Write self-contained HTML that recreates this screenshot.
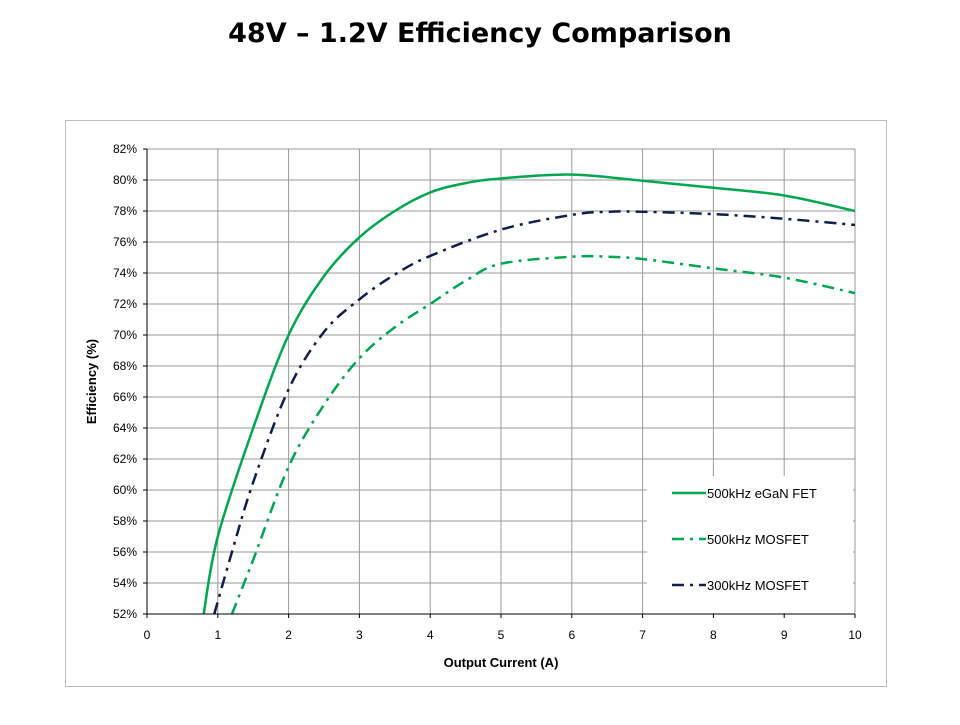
<!DOCTYPE html>
<html><head><meta charset="utf-8"><style>
body{margin:0;background:#fff;width:960px;height:720px;overflow:hidden;font-family:"Liberation Sans",sans-serif}
</style></head><body>
<svg width="960" height="720">
<text x="480" y="42" text-anchor="middle" font-family="DejaVu Sans, sans-serif" font-weight="bold" font-size="27">48V – 1.2V Efficiency Comparison</text>
<rect x="65.5" y="120.5" width="821" height="566" fill="#fff" stroke="#bbb"/>
<g id="grid"></g>
<g id="series"></g>
<g id="axes"></g>
<g id="legend"></g>
</svg>
<script>
const xTicks=[0,1,2,3,4,5,6,7,8,9,10];
const yTicks=[52,54,56,58,60,62,64,66,68,70,72,74,76,78,80,82];
const seriesNames=["500kHz eGaN FET","500kHz MOSFET","300kHz MOSFET"];
const eganX=[0.8,1,1.5,2,2.5,3,3.5,4,4.5,5,6,7,8,9,10];
const eganY=[52,57,64,70,73.8,76.3,78,79.2,79.8,80.1,80.35,79.95,79.5,79,78];
const mos500X=[1.2,1.5,2,2.5,3,3.5,4,4.5,5,6,6.5,7,8,9,10];
const mos500Y=[52,55.5,61.5,65.5,68.5,70.5,72,73.5,74.6,75.05,75.05,74.9,74.3,73.7,72.7];
const mos300X=[0.95,1.2,1.5,2,2.5,3,3.5,4,5,6,6.5,7,8,9,10];
const mos300Y=[52,56,60.5,66.5,70.2,72.3,73.9,75.1,76.8,77.75,77.95,77.95,77.8,77.5,77.1];
const NS="http://www.w3.org/2000/svg";
const X0=147,X1=855,Y0=614,Y1=149;
const sx=v=>X0+(v-0)/(10-0)*(X1-X0);
const sy=v=>Y0-(v-52)/(82-52)*(Y0-Y1);
function mk(t,a,p){const e=document.createElementNS(NS,t);for(const k in a)e.setAttribute(k,a[k]);p.appendChild(e);return e;}
const grid=document.getElementById('grid'),axes=document.getElementById('axes'),ser=document.getElementById('series'),leg=document.getElementById('legend');
xTicks.forEach(t=>{if(t>0){const l=mk('line',{x1:sx(t),x2:sx(t),y1:Y1,y2:Y0,stroke:'#999','stroke-width':1},grid);

}
const tk=mk('line',{x1:sx(t),x2:sx(t),y1:Y0,y2:Y0+4,stroke:'#000'},axes);


const tx=mk('text',{x:sx(t),y:Y0+25,'text-anchor':'middle','font-size':12},axes);tx.textContent=t;

});
yTicks.forEach(t=>{if(t>52){const l=mk('line',{x1:X0,x2:X1,y1:sy(t),y2:sy(t),stroke:'#999','stroke-width':1},grid);

}
const tk=mk('line',{x1:X0-4,x2:X0,y1:sy(t),y2:sy(t),stroke:'#000'},axes);


const tx=mk('text',{x:X0-10,y:sy(t)+4,'text-anchor':'end','font-size':12},axes);tx.textContent=t+'%';

});
let a=mk('line',{x1:X0,x2:X0,y1:Y1,y2:Y0,stroke:'#000'},axes);


a=mk('line',{x1:X0,x2:X1,y1:Y0,y2:Y0,stroke:'#000'},axes);


let t=mk('text',{x:(X0+X1)/2,y:667,'text-anchor':'middle','font-size':13,'font-weight':'bold'},axes);t.textContent='Output Current (A)';


t=mk('text',{x:0,y:0,'text-anchor':'middle','font-size':13,'font-weight':'bold',transform:`translate(96,${(Y0+Y1)/2}) rotate(-90)`},axes);t.textContent='Efficiency (%)';


function path(xs,ys){const p=xs.map((x,i)=>[sx(x),sy(ys[i])]);let d=`M${p[0][0]},${p[0][1]}`;
for(let i=0;i<p.length-1;i++){const p0=p[Math.max(0,i-1)],p1=p[i],p2=p[i+1],p3=p[Math.min(p.length-1,i+2)];
d+=` C${p1[0]+(p2[0]-p0[0])/6},${p1[1]+(p2[1]-p0[1])/6} ${p2[0]-(p3[0]-p1[0])/6},${p2[1]-(p3[1]-p1[1])/6} ${p2[0]},${p2[1]}`;}return d;}
const styles=[{c:'#00a650',d:''},{c:'#00a650',d:'12 6 3 6'},{c:'#0d1f4a',d:'12 6 3 6'}];
const names=['egan-fet-line','mosfet-500khz-line','mosfet-300khz-line'];
[[eganX,eganY],[mos500X,mos500Y],[mos300X,mos300Y]].forEach((s,i)=>{
const p=mk('path',{d:path(s[0],s[1]),fill:'none',stroke:styles[i].c,'stroke-width':2.5,'stroke-dasharray':styles[i].d},ser);

});
const lb=mk('rect',{x:647,y:476,width:206,height:137,fill:'#fff'},leg);


seriesNames.forEach((n,i)=>{const y=493+i*46;
const l=mk('line',{x1:672,x2:706,y1:y,y2:y,stroke:styles[i].c,'stroke-width':2.5,'stroke-dasharray':styles[i].d},leg);


const tx=mk('text',{x:707,y:y+5,'font-size':13},leg);tx.textContent=n;

});
</script>
</body></html>
